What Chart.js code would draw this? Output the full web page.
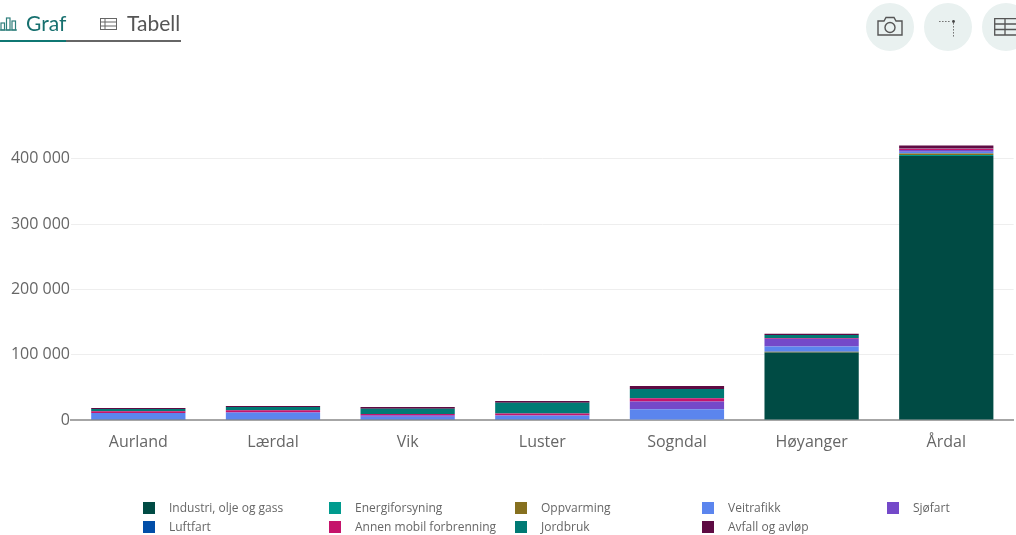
<!DOCTYPE html>
<html lang="no"><head><meta charset="utf-8">
<script src="https://cdn.jsdelivr.net/npm/chart.js@4"></script>
<style>
html,body{margin:0;padding:0;background:#fff;width:1016px;height:535px;overflow:hidden}
#wrap{position:relative;width:1016px;height:535px;overflow:hidden}
canvas{position:absolute;left:0;top:0}
.tab{position:absolute;top:10px;font:21px Lato,sans-serif;line-height:26px}
.line{position:absolute;top:40px;height:2px}
.circ{position:absolute;top:3px;width:48px;height:48px;border-radius:50%;background:#e9f1f0}
svg{position:absolute}
.lg{position:absolute;font:12px "Open Sans",sans-serif;color:#666;line-height:14px;white-space:nowrap}
.sw{position:absolute;width:12px;height:12px}
</style></head><body><div id="wrap">
<canvas id="c" width="1016" height="535"></canvas>
<svg style="left:0;top:17px" width="18" height="14" fill="none" stroke="#2f7f7c" stroke-width="1.2"><path d="M-3 13h20"/><rect x="1" y="6" width="3.5" height="7"/><rect x="6.5" y="1" width="3.5" height="12"/><rect x="12" y="4" width="3.5" height="9"/></svg>
<div class="tab" style="left:26px;color:#17706f">Graf</div>
<svg style="left:100px;top:18px" width="18" height="13" fill="none" stroke="#666" stroke-width="1"><rect x=".5" y=".5" width="16" height="11"/><path d="M.5 4h16M.5 8h16M5 .5v11"/></svg>
<div class="tab" style="left:127px;color:#555">Tabell</div>
<div class="line" style="left:0;width:66px;background:#0f7773"></div>
<div class="line" style="left:66px;width:115px;background:#666"></div>
<div class="circ" style="left:866px"></div><div class="circ" style="left:924px"></div><div class="circ" style="left:982px"></div>
<svg style="left:877px;top:16px" width="26" height="20" fill="none" stroke="#555" stroke-width="1.4"><path d="M1 5h6l2-3.5h8L19 5h6v14H1z"/><circle cx="13" cy="11.5" r="5"/></svg>
<svg style="left:938px;top:18px" width="20" height="20" fill="none" stroke="#777"><path d="M1 3.5h12M15.5 5v14" stroke-dasharray="1.6 1.4"/><circle cx="15.5" cy="3.5" r="1.4" fill="#444" stroke="none"/></svg>
<svg style="left:994px;top:18px" width="22" height="18" fill="none" stroke="#555" stroke-width="1.3"><path d="M.7.7H30V17H.7zM.7 6h30M.7 11.500h30M11 .7V17"/></svg>
<div id="legend"></div>
</div>
<script>
const categories = ["Aurland","Lærdal","Vik","Luster","Sogndal","Høyanger","Årdal"];
const seriesNames = ["Industri, olje og gass","Energiforsyning","Oppvarming","Veitrafikk","Sjøfart","Luftfart","Annen mobil forbrenning","Jordbruk","Avfall og avløp"];
const seriesColors = ["#004b44","#009b8e","#86701f","#5b85ee","#7449c9","#014ea8","#c5146b","#007a74","#5e0b43"];
const industri = [0,0,0,0,0,103500,404500];
const energi = [0,0,0,0,0,0,1500];
const oppvarming = [300,300,300,300,800,1000,2000];
const veitrafikk = [10400,10700,4800,6700,15700,8000,3000];
const sjofart = [0,1000,2000,0,12000,12000,2500];
const luftfart = [0,0,0,0,0,0,0];
const annen = [2600,3000,2000,3000,5000,1000,2500];
const jordbruk = [3500,5000,8000,16500,14000,4600,500];
const avfall = [1500,1500,3000,2500,4500,2000,4000];
const yTicks = [0,100000,200000,300000,400000];

const allSeries = [industri,energi,oppvarming,veitrafikk,sjofart,luftfart,annen,jordbruk,avfall];
new Chart(document.getElementById('c'),{
  type:'bar',
  data:{labels:categories,datasets:allSeries.map((d,i)=>({label:seriesNames[i],data:d,backgroundColor:seriesColors[i],borderWidth:0,barPercentage:0.7,categoryPercentage:1}))},
  options:{
    responsive:false,animation:false,
    layout:{padding:{top:126.200,left:0,right:2.4,bottom:0}},
    plugins:{legend:{display:false},tooltip:{enabled:false}},
    scales:{
      x:{stacked:true,
        grid:{display:false,drawTicks:false},
        border:{color:'#a6a6a6',width:2},
        ticks:{color:'#666',font:{family:'"Open Sans"',size:16},padding:13,maxRotation:0},
        afterFit(s){s.height=115}},
      y:{stacked:true,min:0,max:450000,
        grid:{color:'#eeeeee',drawTicks:false,lineWidth:1},
        border:{display:false},
        afterBuildTicks(s){s.ticks=yTicks.map(v=>({value:v}))},
        ticks:{color:'#666',font:{family:'"Open Sans"',size:16},padding:1,
          callback:v=>String(v).replace(/\B(?=(\d{3})+$)/g,' ')},
        afterFit(s){s.width=71}}
    }
  }
});
const colX=[143,329,515,702,887], rowY=[502,521];
const lg=document.getElementById('legend');
seriesNames.forEach((n,i)=>{
  const x=colX[i%5], y=rowY[Math.floor(i/5)];
  const s=document.createElement('div');s.className='sw';s.style.cssText=`left:${x}px;top:${y}px;background:${seriesColors[i]}`;lg.appendChild(s);
  const t=document.createElement('div');t.className='lg';t.textContent=n;t.style.left=(x+26)+'px';t.style.top=(y-1)+'px';lg.appendChild(t);
});
</script></body></html>
